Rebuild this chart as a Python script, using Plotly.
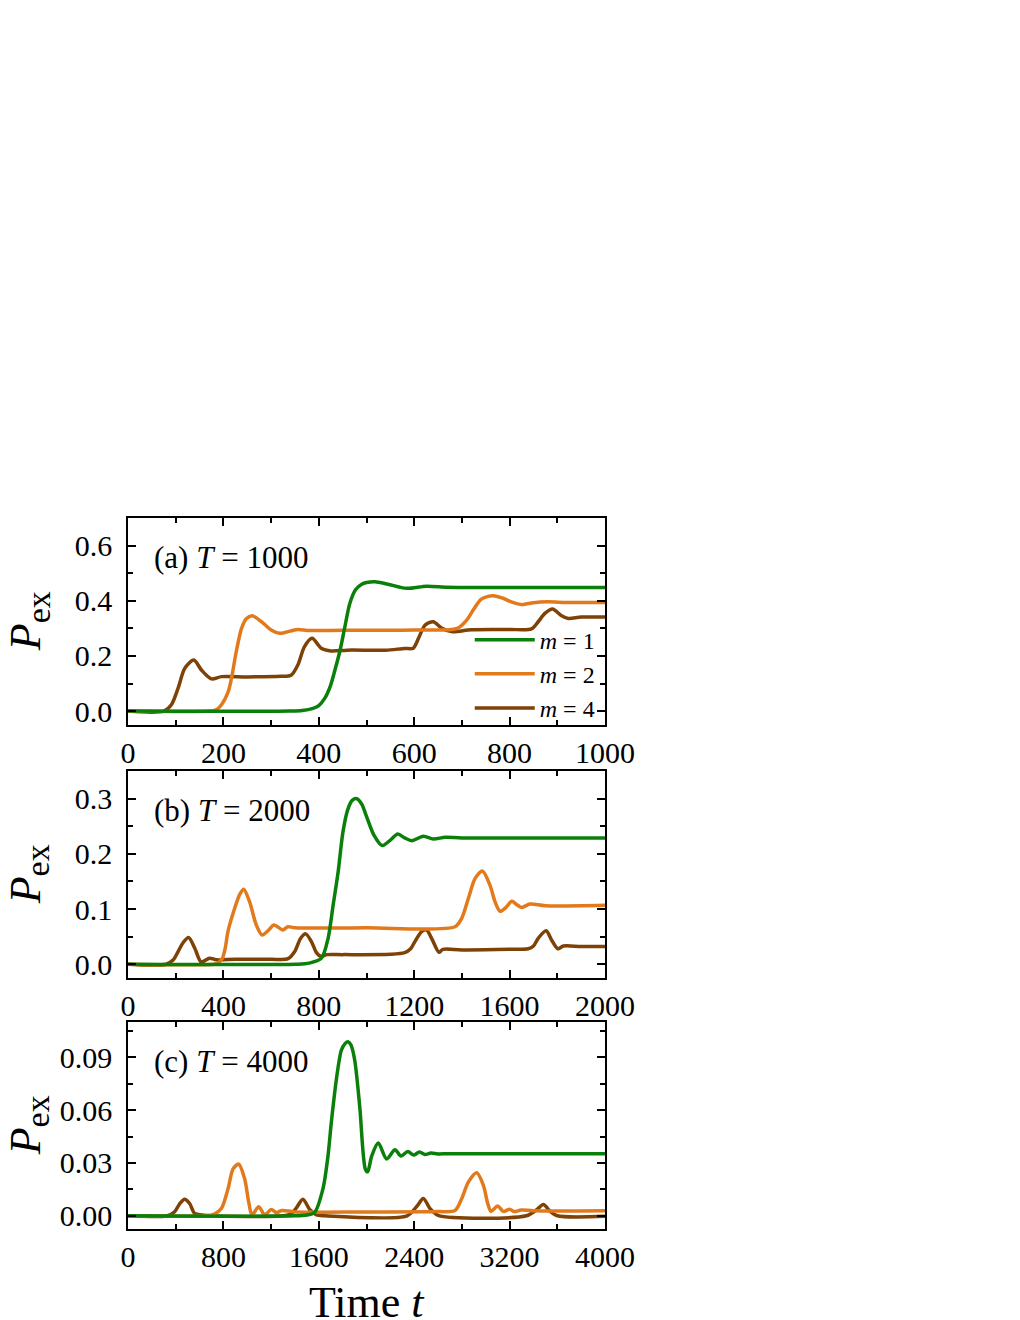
import plotly.graph_objects as go
from plotly.subplots import make_subplots

# panel (a), T = 1000
t_a_m1 = [0, 340, 365, 388, 400, 412, 424, 434, 444, 454, 465, 477, 490, 500, 518, 545, 584, 626, 670, 750, 1000]
p_a_m1 = [0, 0, 0.002, 0.01, 0.02, 0.045, 0.09, 0.15, 0.216, 0.30, 0.39, 0.44, 0.46, 0.466, 0.469, 0.46, 0.445,
          0.453, 0.449, 0.448, 0.448]
t_a_m2 = [0, 170, 185, 196, 210, 217, 227, 238, 248, 260, 280, 300, 318, 340, 356, 380, 450, 600, 690, 710,
          725, 740, 755, 766, 785, 805, 825, 850, 880, 920, 1000]
p_a_m2 = [0, 0, 0.005, 0.023, 0.07, 0.12, 0.216, 0.30, 0.335, 0.346, 0.324, 0.294, 0.282, 0.29, 0.296, 0.292,
          0.293, 0.294, 0.30, 0.33, 0.37, 0.405, 0.416, 0.418, 0.41, 0.395, 0.386, 0.393, 0.396, 0.394, 0.394]
t_a_m4 = [0, 75, 91, 105, 119, 138, 154, 175, 196, 250, 320, 342, 356, 370, 386, 405, 426, 460, 540, 580,
          598, 609, 623, 640, 658, 680, 720, 800, 846, 860, 874, 890, 909, 923, 950, 1000]
p_a_m4 = [0, 0, 0.023, 0.083, 0.155, 0.185, 0.149, 0.117, 0.125, 0.124, 0.126, 0.13, 0.167, 0.234, 0.264,
          0.228, 0.218, 0.221, 0.221, 0.227, 0.228, 0.264, 0.312, 0.324, 0.30, 0.288, 0.295, 0.296, 0.298,
          0.324, 0.354, 0.37, 0.346, 0.336, 0.341, 0.341]

# panel (b), T = 2000
t_b_m1 = [0, 700, 760, 811, 839, 860, 881, 901, 922, 940, 960, 980, 1000, 1030, 1066, 1100, 1131, 1160,
          1190, 1238, 1280, 1330, 1400, 2000]
p_b_m1 = [0, 0, 0.002, 0.011, 0.047, 0.107, 0.167, 0.239, 0.281, 0.297, 0.30, 0.29, 0.268, 0.235, 0.215,
          0.225, 0.236, 0.229, 0.224, 0.232, 0.227, 0.230, 0.229, 0.229]
t_b_m2 = [0, 360, 377, 395, 408, 419, 447, 469, 485, 510, 538, 562, 590, 611, 630, 650, 670, 700, 1000, 1371,
          1399, 1427, 1455, 1486, 1518, 1539, 1560, 1585, 1609, 1630, 1650, 1686, 1750, 2000]
p_b_m2 = [0, 0, 0.002, 0.01, 0.03, 0.059, 0.101, 0.127, 0.136, 0.113, 0.071, 0.053, 0.062, 0.071, 0.067,
          0.062, 0.068, 0.066, 0.066, 0.068, 0.083, 0.119, 0.155, 0.169, 0.143, 0.113, 0.096, 0.103, 0.114,
          0.108, 0.103, 0.109, 0.106, 0.107]
t_b_m4 = [0, 160, 190, 210, 231, 254, 280, 307, 342, 370, 450, 600, 671, 699, 724, 745, 769, 790, 808, 835,
          900, 1100, 1160, 1185, 1203, 1231, 1252, 1273, 1304, 1320, 1400, 1600, 1678, 1700, 1720, 1753,
          1776, 1802, 1826, 1900, 2000]
p_b_m4 = [0, 0, 0.008, 0.023, 0.039, 0.0485, 0.029, 0.004, 0.011, 0.008, 0.009, 0.009, 0.010, 0.023, 0.047,
          0.055, 0.041, 0.021, 0.0144, 0.0174, 0.0174, 0.018, 0.021, 0.028, 0.041, 0.059, 0.062, 0.047,
          0.0215, 0.027, 0.026, 0.027, 0.028, 0.033, 0.047, 0.0605, 0.044, 0.028, 0.033, 0.032, 0.032]

# panel (c), T = 4000
t_c_m1 = [0, 1400, 1500, 1565, 1635, 1677, 1705, 1747, 1789, 1820, 1845, 1870, 1901, 1943, 1990, 2010, 2044,
          2099, 2169, 2239, 2290, 2346, 2396, 2444, 2490, 2540, 2600, 2700, 4000]
p_c_m1 = [0, 0, 0.0005, 0.0019, 0.0154, 0.034, 0.053, 0.0773, 0.094, 0.0978, 0.0989, 0.097, 0.0885, 0.0623,
          0.0266, 0.025, 0.034, 0.0413, 0.0323, 0.0375, 0.0339, 0.0365, 0.0345, 0.0362, 0.0348, 0.0356,
          0.0351, 0.0353, 0.0353]
t_c_m2 = [0, 650, 720, 783, 839, 881, 928, 978, 1012, 1040, 1096, 1146, 1202, 1245, 1288, 1400, 2000, 2600,
          2742, 2798, 2854, 2924, 2980, 3017, 3044, 3100, 3147, 3200, 3241, 3298, 3400, 4000]
p_c_m2 = [0, 0, 0.0008, 0.0041, 0.0154, 0.0266, 0.0294, 0.021, 0.0079, 0.0004, 0.0051, 0.0006, 0.0036,
          0.0018, 0.003, 0.0022, 0.0022, 0.0024, 0.003, 0.0097, 0.0191, 0.0244, 0.0173, 0.0069, 0.0025,
          0.0056, 0.0025, 0.0037, 0.0024, 0.0033, 0.0028, 0.0028]
t_c_m4 = [0, 330, 391, 433, 475, 517, 559, 620, 700, 1300, 1370, 1412, 1467, 1523, 1580, 1650, 2340, 2421,
          2477, 2533, 2600, 3340, 3427, 3483, 3539, 3600, 4000]
p_c_m4 = [0, 0, 0.0023, 0.0068, 0.0094, 0.007, 0.0013, 0.0005, 0, 0, 0.0012, 0.0045, 0.0094, 0.0036,
          0.0005, 0, 0, 0.0053, 0.0098, 0.0041, 0.0003, 0, 0.0034, 0.0064, 0.0026, 0, -0.0003]

labels = ["(a) <i>T</i> = 1000", "(b) <i>T</i> = 2000", "(c) <i>T</i> = 4000"]
series_names = ["<i>m</i> = 1", "<i>m</i> = 2", "<i>m</i> = 4"]
colors = ["#0a800a", "#e27a1c", "#7e4106"]

panels = [
    [(t_a_m1, p_a_m1), (t_a_m2, p_a_m2), (t_a_m4, p_a_m4)],
    [(t_b_m1, p_b_m1), (t_b_m2, p_b_m2), (t_b_m4, p_b_m4)],
    [(t_c_m1, p_c_m1), (t_c_m2, p_c_m2), (t_c_m4, p_c_m4)],
]
x_ranges = [[0, 1000], [0, 2000], [0, 4000]]
x_dticks = [200, 400, 800]
y_ranges = [[-0.05, 0.7], [-0.025, 0.35], [-0.0075, 0.11]]
y_dticks = [0.2, 0.1, 0.03]
y_formats = [".1f", ".1f", ".2f"]
y_domains = [[0.709, 1.0], [0.353, 0.644], [0.0, 0.291]]

FONT = "Liberation Serif"
TICKFONT = dict(family=FONT, size=30, color="black")

fig = make_subplots(rows=3, cols=1)

# draw m=4 first so it sits underneath
for r, series in enumerate(panels, start=1):
    for k in [2, 1, 0]:
        t, p = series[k]
        fig.add_trace(go.Scatter(
            x=t, y=p, mode="lines", name=series_names[k],
            line=dict(color=colors[k], width=3.5, shape="spline", smoothing=0.8),
            showlegend=False,
        ), row=r, col=1)

# legend entries (panel a only)
for k in range(3):
    fig.add_trace(go.Scatter(
        x=[None], y=[None], mode="lines", name=series_names[k],
        line=dict(color=colors[k], width=3.5), showlegend=True, legendrank=k,
    ), row=1, col=1)

for r in range(3):
    sfx = str(r + 1) if r else ""
    fig.update_xaxes(
        range=x_ranges[r], dtick=x_dticks[r], tick0=0,
        ticks="inside", ticklen=8, tickwidth=1.5, tickcolor="black",
        minor=dict(dtick=x_dticks[r] / 2, ticks="inside", ticklen=5, tickwidth=1.5, tickcolor="black"),
        showline=True, linecolor="black", linewidth=1.5, mirror="ticks",
        showgrid=False, zeroline=False, ticklabelstandoff=0,
        tickfont=TICKFONT,
        row=r + 1, col=1,
    )
    fig.update_yaxes(
        range=y_ranges[r], dtick=y_dticks[r], tick0=0, tickformat=y_formats[r],
        domain=y_domains[r],
        ticks="inside", ticklen=8, tickwidth=1.5, tickcolor="black",
        minor=dict(dtick=y_dticks[r] / 2, ticks="inside", ticklen=5, tickwidth=1.5, tickcolor="black"),
        showline=True, linecolor="black", linewidth=1.5, mirror="ticks",
        showgrid=False, zeroline=False, ticklabelstandoff=8,
        tickfont=TICKFONT,
        row=r + 1, col=1,
    )
    # panel label
    fig.add_annotation(
        text=labels[r], xref=f"x{sfx} domain", yref=f"y{sfx} domain",
        x=0.05, y=0.81, xanchor="left", yanchor="middle", showarrow=False,
        font=dict(family=FONT, size=31, color="black"),
    )
    # y title
    fig.add_annotation(
        text="<i>P</i><sub><span style='font-size:34px'>ex</span></sub>",
        xref=f"x{sfx} domain", yref=f"y{sfx} domain",
        x=-0.208, y=0.5, xanchor="center", yanchor="middle", textangle=-90, showarrow=False,
        font=dict(family=FONT, size=44, color="black"),
    )

# x title
fig.add_annotation(
    text="Time <i>t</i>", xref="x3 domain", yref="y3 domain",
    x=0.5, y=-0.353, xanchor="center", yanchor="middle", showarrow=False,
    font=dict(family=FONT, size=44, color="black"),
)

fig.update_layout(
    width=1000, height=1312,
    margin=dict(l=120, r=403, t=510, b=91),
    paper_bgcolor="white", plot_bgcolor="white",
    legend=dict(
        x=0.989, y=0.860, xanchor="right", yanchor="top",
        bgcolor="rgba(0,0,0,0)", font=dict(family=FONT, size=24, color="black"),
        itemwidth=60, tracegroupgap=0,
    ),
    showlegend=True,
)

fig.write_html("out.html")
